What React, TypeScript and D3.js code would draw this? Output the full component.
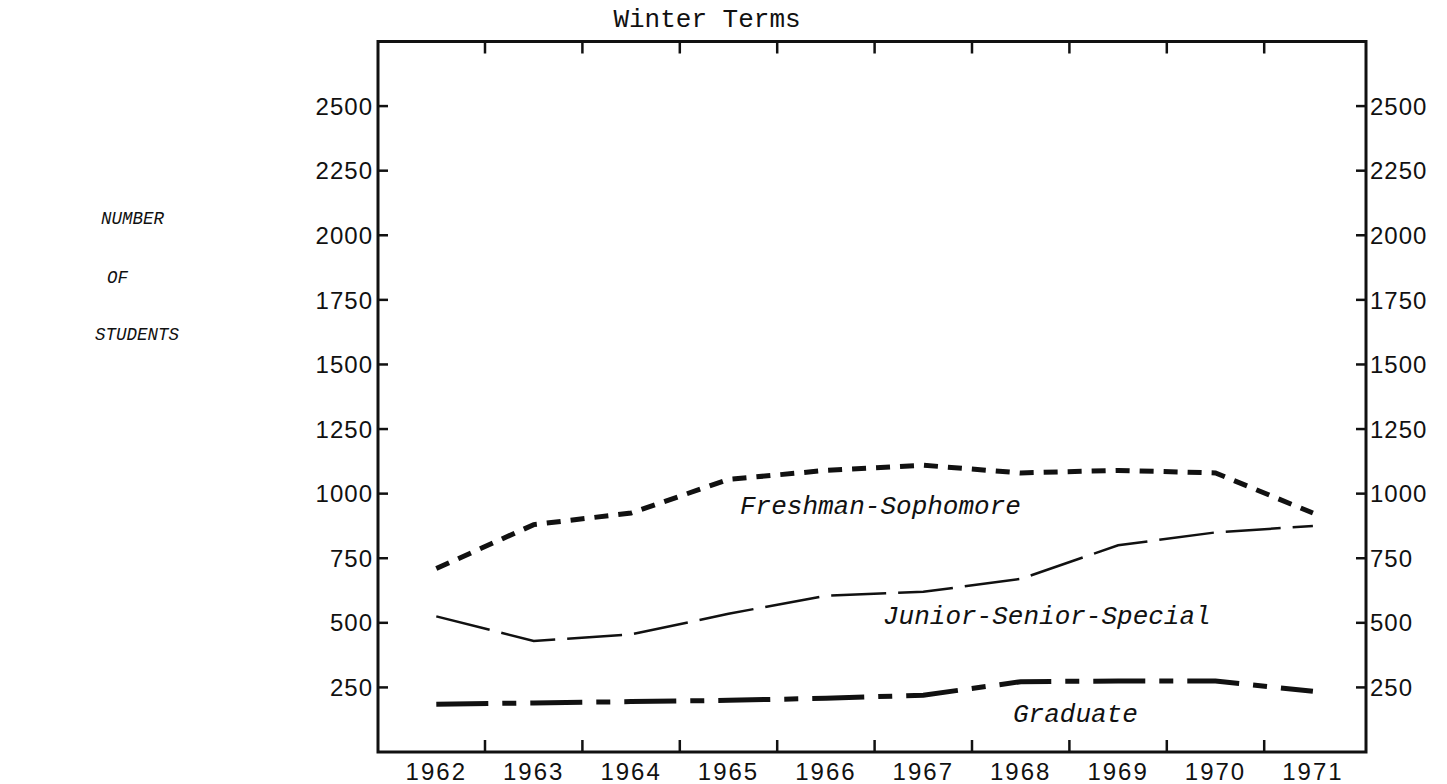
import React from "react";
import * as d3 from "d3";

const years = [1962, 1963, 1964, 1965, 1966, 1967, 1968, 1969, 1970, 1971];
const freshmanSophomore = [710, 880, 925, 1055, 1090, 1110, 1080, 1090, 1080, 925];
const juniorSeniorSpecial = [525, 430, 455, 535, 605, 620, 670, 800, 850, 875];
const graduate = [185, 190, 195, 200, 208, 220, 272, 275, 275, 235];
const yTicks = [250, 500, 750, 1000, 1250, 1500, 1750, 2000, 2250, 2500];
const yearBoundaries = [1962.5, 1963.5, 1964.5, 1965.5, 1966.5, 1967.5, 1968.5, 1969.5, 1970.5];
const title = "Winter Terms";
const axisLabel = ["NUMBER", "OF", "STUDENTS"];

const W = 1447;
const H = 784;
const left = 378;
const right = 1366;
const top = 41.5;
const bottom = 752;

export default function App() {
  const x = d3.scaleLinear().domain([1962, 1971]).range([436.3, 1312.9]);
  const xLeftVal = x.invert(left);
  const xRightVal = x.invert(right);
  const y = d3.scaleLinear().domain([0, 2750]).range([bottom, top]);

  const line = d3
    .line<number>()
    .x((_, i) => x(years[i]))
    .y((d) => y(d));

  const mono = "'Liberation Mono', 'Courier New', monospace";
  const sans = "'Liberation Sans', Arial, sans-serif";

  return (
    <svg
      width={W}
      height={H}
      viewBox={`0 0 ${W} ${H}`}
      style={{ position: "absolute", left: 0, top: 0, display: "block", background: "#fff" }}
    >
      <rect x={0} y={0} width={W} height={H} fill="#fff" />
      {/* title */}
      <text x={707} y={27} textAnchor="middle" fontFamily={mono} fontSize={26} fill="#111">
        {title}
      </text>
      {/* side label */}
      <text x={101} y={224} fontFamily={mono} fontStyle="italic" fontSize={17.5} fill="#111">
        {axisLabel[0]}
      </text>
      <text x={107} y={283} fontFamily={mono} fontStyle="italic" fontSize={17.5} fill="#111">
        {axisLabel[1]}
      </text>
      <text x={95} y={340} fontFamily={mono} fontStyle="italic" fontSize={17.5} fill="#111">
        {axisLabel[2]}
      </text>

      {/* frame */}
      <rect
        x={x(xLeftVal)}
        y={y(2750)}
        width={x(xRightVal) - x(xLeftVal)}
        height={y(0) - y(2750)}
        fill="none"
        stroke="#111"
        strokeWidth={3}
      />
      {/* x ticks top and bottom */}
      {yearBoundaries.map((b) => (
        <g key={b}>
          <line x1={x(b)} x2={x(b)} y1={y(2750)} y2={y(2750) + 12} stroke="#111" strokeWidth={2.5} />
          <line x1={x(b)} x2={x(b)} y1={y(0)} y2={y(0) - 12} stroke="#111" strokeWidth={2.5} />
        </g>
      ))}
      {/* year labels */}
      {years.map((yr) => (
        <text
          key={yr}
          x={x(yr)}
          y={780}
          textAnchor="middle"
          fontFamily={sans}
          fontSize={24}
          letterSpacing={2}
          fill="#111"
        >
          {yr}
        </text>
      ))}
      {/* y ticks */}
      {yTicks.map((t) => (
        <g key={t}>
          <line x1={left} x2={left + 10} y1={y(t)} y2={y(t)} stroke="#111" strokeWidth={2.5} />
          <line x1={right} x2={right - 10} y1={y(t)} y2={y(t)} stroke="#111" strokeWidth={2.5} />
          <text
            x={left - 5}
            y={y(t)}
            dy="0.36em"
            textAnchor="end"
            fontFamily={sans}
            fontSize={24}
            letterSpacing={1}
            fill="#111"
          >
            {t}
          </text>
          <text
            x={right + 4}
            y={y(t)}
            dy="0.36em"
            textAnchor="start"
            fontFamily={sans}
            fontSize={24}
            letterSpacing={1}
            fill="#111"
          >
            {t}
          </text>
        </g>
      ))}

      {/* series */}
      <path
        d={line(freshmanSophomore) || ""}
        fill="none"
        stroke="#111"
        strokeWidth={5}
        strokeDasharray="14 10"
        strokeLinecap="butt"
      />
      <path
        d={line(juniorSeniorSpecial) || ""}
        fill="none"
        stroke="#111"
        strokeWidth={2.5}
        strokeDasharray="55 12"
      />
      <path
        d={line(graduate) || ""}
        fill="none"
        stroke="#111"
        strokeWidth={5}
        strokeDasharray="52 14 14 14"
      />

      {/* series labels */}
      <text x={740} y={514} fontFamily={mono} fontStyle="italic" fontSize={26} fill="#111">
        Freshman-Sophomore
      </text>
      <text x={883} y={624} fontFamily={mono} fontStyle="italic" fontSize={26} fill="#111">
        Junior-Senior-Special
      </text>
      <text x={1013} y={722} fontFamily={mono} fontStyle="italic" fontSize={26} fill="#111">
        Graduate
      </text>
    </svg>
  );
}
